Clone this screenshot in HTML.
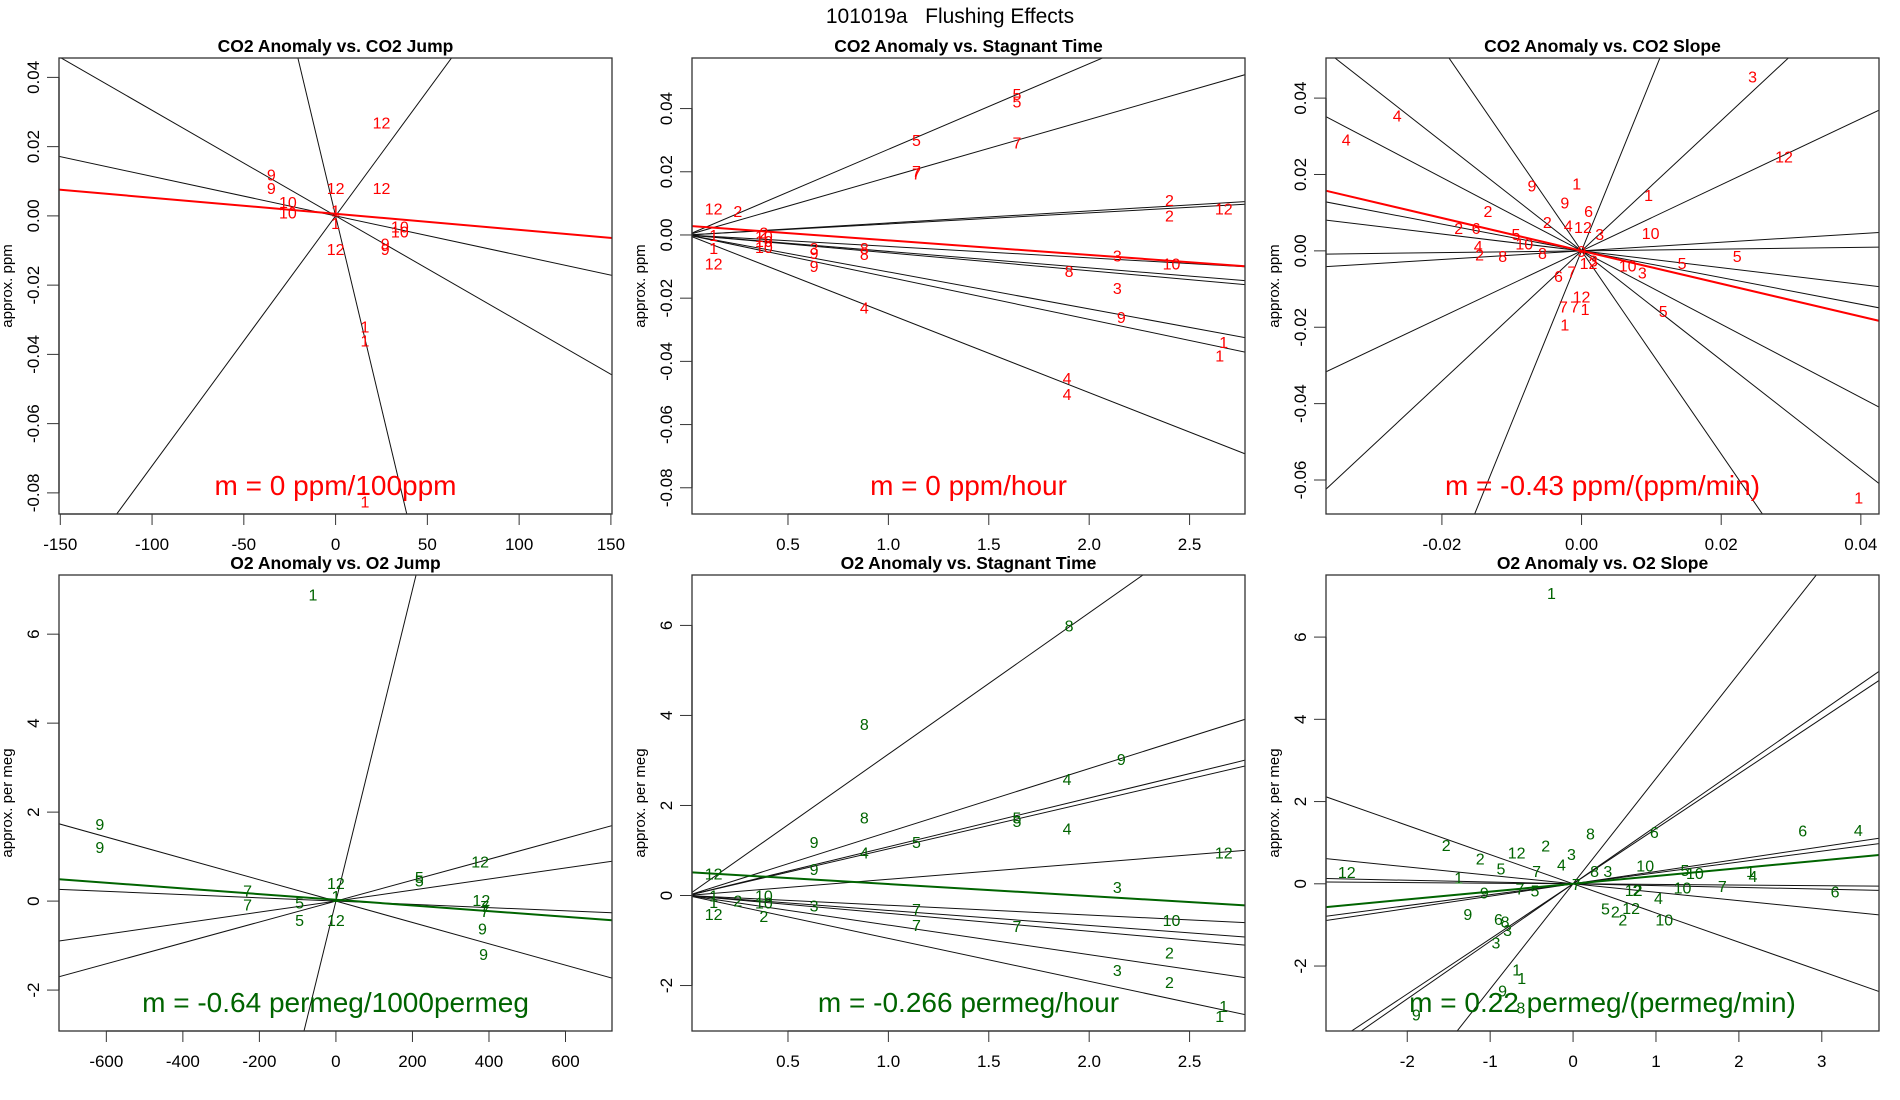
<!DOCTYPE html>
<html><head><meta charset="utf-8"><title>101019a Flushing Effects</title>
<style>
html,body{margin:0;padding:0;background:#fff;width:1900px;height:1100px;overflow:hidden;}
svg{display:block;font-family:"Liberation Sans",Arial,sans-serif;}
</style></head>
<body>
<svg id="fig" width="1900" height="1100" viewBox="0 0 1900 1100" xmlns="http://www.w3.org/2000/svg">
<rect x="0" y="0" width="1900" height="1100" fill="#fff"/>
<text x="950" y="23" font-size="21" text-anchor="middle" style="white-space:pre">101019a   Flushing Effects</text>
</svg>
<script>
// ---------- Data ----------
// Panel 1: CO2 Anomaly vs. CO2 Jump
const p1Slopes = [-0.000305, -0.000114, -0.00222, 0.000722];
const p1FitSlope = -0.0000463;
const p1FitIntercept = 0.0006;
const p1Labels = [[25,0.027,"12"],[-35,0.012,"9"],[-35,0.008,"9"],[0,0.008,"12"],[25,0.008,"12"],[-26,0.004,"10"],[-26,0.001,"10"],[0,0.0015,"1"],[0,-0.002,"1"],[35,-0.003,"10"],[35,-0.0045,"10"],[27,-0.008,"9"],[27,-0.0095,"9"],[0,-0.0095,"12"],[16,-0.032,"1"],[16,-0.036,"1"],[16,-0.0825,"1"]];
const p1XTicks = [-150,-100,-50,0,50,100,150];
const p1YTicks = [-0.08,-0.06,-0.04,-0.02,0,0.02,0.04];

// Panel 2: CO2 Anomaly vs. Stagnant Time
const p2Slopes = [0.0271, 0.01827, 0.0038, 0.0035, -0.00362, -0.00521, -0.00566, -0.0117, -0.01335, -0.02495];
const p2FitSlope = -0.00461;
const p2FitIntercept = 0.0029;
const p2Labels = [[1.64,0.0446,"5"],[1.64,0.0423,"5"],[1.14,0.030,"5"],[1.64,0.0293,"7"],[1.14,0.0202,"7"],[1.14,0.0194,"7"],[0.13,0.0084,"12"],[0.25,0.0076,"2"],[2.40,0.011,"2"],[2.40,0.0061,"2"],[2.67,0.0084,"12"],[0.13,0,"1"],[0.13,-0.0042,"1"],[0.13,-0.0091,"12"],[0.38,0.0008,"2"],[0.38,-0.0004,"10"],[0.38,-0.0019,"10"],[0.38,-0.0038,"10"],[0.63,-0.0042,"3"],[0.63,-0.0057,"9"],[0.63,-0.0099,"9"],[0.88,-0.0042,"8"],[0.88,-0.0061,"8"],[0.88,-0.0229,"4"],[2.14,-0.0065,"3"],[2.41,-0.0091,"10"],[1.90,-0.0114,"8"],[2.14,-0.0168,"3"],[2.16,-0.0259,"9"],[2.67,-0.0339,"1"],[2.65,-0.0381,"1"],[1.89,-0.0453,"4"],[1.89,-0.0503,"4"]];
const p2XTicks = [0.5,1.0,1.5,2.0,2.5];
const p2YTicks = [-0.08,-0.06,-0.04,-0.02,0,0.02,0.04];

// Panel 3: CO2 Anomaly vs. CO2 Slope
const p3Slopes = [-2.66,-1.43,-0.96,-0.35,-0.22,0.023,0.113,0.865,1.705,4.5];
const p3FitSlope = -0.43;
const p3FitIntercept = 0;
const p3Labels = [[0.0245,0.0456,"3"],[-0.0264,0.0354,"4"],[-0.0337,0.0291,"4"],[0.029,0.0247,"12"],[-0.0007,0.0177,"1"],[-0.0071,0.0171,"9"],[0.0096,0.0146,"1"],[-0.0024,0.0127,"9"],[0.001,0.0104,"6"],[-0.0134,0.0104,"2"],[-0.0049,0.0076,"2"],[-0.0019,0.0066,"4"],[0.0002,0.0063,"12"],[0.0026,0.0044,"3"],[0.0099,0.0047,"10"],[-0.0176,0.006,"2"],[-0.0151,0.006,"6"],[-0.0094,0.0044,"5"],[-0.0082,0.0019,"10"],[-0.0148,0.0013,"4"],[-0.0146,-0.0009,"2"],[-0.0113,-0.0013,"8"],[-0.0056,-0.0006,"8"],[0.0223,-0.0013,"5"],[0.0144,-0.0032,"5"],[0.0066,-0.0038,"10"],[0.0087,-0.0057,"3"],[-0.0033,-0.0066,"6"],[-0.0014,-0.0054,"7"],[0,-0.012,"12"],[-0.0026,-0.0146,"7"],[-0.001,-0.0146,"7"],[0.0005,-0.0152,"1"],[0.0117,-0.0158,"5"],[-0.0024,-0.0193,"1"],[0.0397,-0.0646,"1"],[0.001,-0.0032,"12"],[0.0017,-0.0025,"3"],[0,0,"9"]];
const p3XTicks = [-0.02,0,0.02,0.04];
const p3YTicks = [-0.06,-0.04,-0.02,0,0.02,0.04];

// Panel 4: O2 Anomaly vs. O2 Jump
const p4Slopes = [-0.0024,-0.000365,0.00124,0.00235,0.035];
const p4FitSlope = -0.000637;
const p4FitIntercept = 0.03;
const p4Labels = [[-60,6.89,"1"],[-617,1.73,"9"],[-617,1.22,"9"],[-231,0.24,"7"],[-231,-0.08,"7"],[-95,-0.03,"5"],[-95,-0.43,"5"],[0,0.41,"12"],[0,0.11,"1"],[0,-0.43,"12"],[218,0.54,"5"],[218,0.46,"5"],[377,0.89,"12"],[380,0.03,"12"],[389,-0.11,"7"],[389,-0.22,"7"],[383,-0.62,"9"],[386,-1.19,"9"]];
const p4XTicks = [-600,-400,-200,0,200,400,600];
const p4YTicks = [-2,0,2,4,6];

// Panel 5: O2 Anomaly vs. Stagnant Time
const p5Slopes = [3.14,1.41,1.083,1.036,0.361,-0.217,-0.332,-0.397,-0.657,-0.953];
const p5FitSlope = -0.266;
const p5FitIntercept = 0.52;
const p5Labels = [[1.90,6.0,"8"],[0.88,3.81,"8"],[2.16,3.03,"9"],[1.89,2.59,"4"],[0.88,1.73,"8"],[1.64,1.73,"5"],[1.64,1.65,"5"],[1.89,1.49,"4"],[0.63,1.19,"9"],[1.14,1.19,"5"],[0.88,0.95,"4"],[0.63,0.59,"9"],[2.67,0.95,"12"],[0.13,0.49,"12"],[2.14,0.19,"3"],[0.13,0,"1"],[0.13,-0.14,"1"],[0.25,-0.11,"2"],[0.38,0,"10"],[0.38,-0.16,"10"],[0.63,-0.22,"3"],[0.13,-0.41,"12"],[0.38,-0.46,"2"],[1.14,-0.3,"7"],[1.14,-0.65,"7"],[1.64,-0.68,"7"],[2.41,-0.54,"10"],[2.40,-1.27,"2"],[2.14,-1.65,"3"],[2.40,-1.92,"2"],[2.67,-2.46,"1"],[2.65,-2.68,"1"]];
const p5XTicks = [0.5,1.0,1.5,2.0,2.5];
const p5YTicks = [-2,0,2,4,6];

// Panel 6: O2 Anomaly vs. O2 Slope
const p6Slopes = [2.56,1.40,1.34,0.30,0.265,-0.015,-0.043,-0.205,-0.71];
const p6FitSlope = 0.19;
const p6FitIntercept = 0;
const p6Labels = [[-0.26,7.07,"1"],[0.21,1.22,"8"],[0.98,1.26,"6"],[2.77,1.30,"6"],[3.44,1.31,"4"],[-1.53,0.94,"2"],[-0.33,0.93,"2"],[-0.68,0.76,"12"],[-0.02,0.73,"3"],[-1.12,0.61,"2"],[-0.14,0.47,"4"],[0.87,0.45,"10"],[-0.87,0.37,"5"],[-0.44,0.31,"7"],[0.26,0.31,"8"],[0.42,0.31,"3"],[-2.73,0.29,"12"],[1.35,0.34,"5"],[1.47,0.26,"10"],[2.14,0.31,"1"],[2.17,0.19,"4"],[-1.38,0.15,"1"],[0.04,0,"7"],[-0.64,-0.11,"7"],[-0.46,-0.16,"5"],[-1.07,-0.21,"9"],[0.73,-0.15,"12"],[0.77,-0.15,"2"],[1.32,-0.09,"10"],[1.80,-0.05,"7"],[3.16,-0.19,"6"],[1.03,-0.34,"4"],[0.39,-0.60,"5"],[0.51,-0.67,"2"],[0.70,-0.59,"12"],[0.60,-0.87,"2"],[1.10,-0.87,"10"],[-1.27,-0.74,"9"],[-0.90,-0.86,"6"],[-0.82,-0.92,"8"],[-0.79,-1.12,"3"],[-0.93,-1.43,"3"],[-0.68,-2.08,"1"],[-0.62,-2.29,"1"],[-0.85,-2.59,"9"],[-0.63,-3.01,"8"],[-1.89,-3.18,"9"]];
const p6XTicks = [-2,-1,0,1,2,3];
const p6YTicks = [-2,0,2,4,6];

// ---------- Layout ----------
const NS = "http://www.w3.org/2000/svg";
const svg = document.getElementById('fig');
function mk(tag, attrs, parent){ const e=document.createElementNS(NS,tag); for(const k in attrs) e.setAttribute(k,attrs[k]); (parent||svg).appendChild(e); return e; }

const RED="#ff0000", GREEN="#006400";
const panels = [
 {id:"p1", title:"CO2 Anomaly vs. CO2 Jump", ytitle:"approx. ppm", box:[59,58,612,514], xr:[-150.7,150.6], yr:[-0.0861,0.0456], slopes:p1Slopes, fs:p1FitSlope, fi:p1FitIntercept, labels:p1Labels, xt:p1XTicks, yt:p1YTicks, xf:v=>String(v), yf:v=>v.toFixed(2), col:RED, m:"m = 0 ppm/100ppm"},
 {id:"p2", title:"CO2 Anomaly vs. Stagnant Time", ytitle:"approx. ppm", box:[692,58,1245,514], xr:[0.022,2.776], yr:[-0.0883,0.056], slopes:p2Slopes, fs:p2FitSlope, fi:p2FitIntercept, labels:p2Labels, xt:p2XTicks, yt:p2YTicks, xf:v=>v.toFixed(1), yf:v=>v.toFixed(2), col:RED, m:"m = 0 ppm/hour"},
 {id:"p3", title:"CO2 Anomaly vs. CO2 Slope", ytitle:"approx. ppm", box:[1326,58,1879,514], xr:[-0.0366,0.0426], yr:[-0.0689,0.0505], slopes:p3Slopes, fs:p3FitSlope, fi:p3FitIntercept, labels:p3Labels, xt:p3XTicks, yt:p3YTicks, xf:v=>v.toFixed(2), yf:v=>v.toFixed(2), col:RED, m:"m = -0.43 ppm/(ppm/min)"},
 {id:"p4", title:"O2 Anomaly vs. O2 Jump", ytitle:"approx. per meg", box:[59,575,612,1031], xr:[-723.7,721.5], yr:[-2.92,7.33], slopes:p4Slopes, fs:p4FitSlope, fi:p4FitIntercept, labels:p4Labels, xt:p4XTicks, yt:p4YTicks, xf:v=>String(v), yf:v=>String(v), col:GREEN, m:"m = -0.64 permeg/1000permeg"},
 {id:"p5", title:"O2 Anomaly vs. Stagnant Time", ytitle:"approx. per meg", box:[692,575,1245,1031], xr:[0.022,2.776], yr:[-3.01,7.12], slopes:p5Slopes, fs:p5FitSlope, fi:p5FitIntercept, labels:p5Labels, xt:p5XTicks, yt:p5YTicks, xf:v=>v.toFixed(1), yf:v=>String(v), col:GREEN, m:"m = -0.266 permeg/hour"},
 {id:"p6", title:"O2 Anomaly vs. O2 Slope", ytitle:"approx. per meg", box:[1326,575,1879,1031], xr:[-2.98,3.69], yr:[-3.58,7.51], slopes:p6Slopes, fs:p6FitSlope, fi:p6FitIntercept, labels:p6Labels, xt:p6XTicks, yt:p6YTicks, xf:v=>String(v), yf:v=>String(v), col:GREEN, m:"m = 0.22 permeg/(permeg/min)"}
];

const defs = mk('defs',{});
panels.forEach(p=>{
  const [L,T,R,B] = p.box;
  const sx = v => L + (v-p.xr[0])/(p.xr[1]-p.xr[0])*(R-L);
  const sy = v => B - (v-p.yr[0])/(p.yr[1]-p.yr[0])*(B-T);
  const g = mk('g',{});
  
  

  const cp = mk('clipPath',{id:'clip-'+p.id}, defs);
  mk('rect',{x:L,y:T,width:R-L,height:B-T}, cp);

  const t = mk('text',{x:(L+R)/2, y:T-6, 'font-size':17.5, 'font-weight':'bold', 'text-anchor':'middle'}, g);
  t.textContent = p.title;
  
  

  const yx = L-47, yy=(T+B)/2;
  const yt = mk('text',{x:yx, y:yy, 'font-size':15, 'text-anchor':'middle', transform:`rotate(-90 ${yx} ${yy})`}, g);
  yt.textContent = p.ytitle;
  
  

  const lg = mk('g',{'clip-path':`url(#clip-${p.id})`}, g);
  
  
  const x0 = p.xr[0]-(p.xr[1]-p.xr[0]), x1 = p.xr[1]+(p.xr[1]-p.xr[0]);
  p.slopes.forEach(s=>{
    const ln = mk('line',{x1:sx(x0), y1:sy(s*x0), x2:sx(x1), y2:sy(s*x1), stroke:'#111', 'stroke-width':1}, lg);
    
    
  });
  const fl = mk('line',{x1:sx(x0), y1:sy(p.fs*x0+p.fi), x2:sx(x1), y2:sy(p.fs*x1+p.fi), stroke:p.col, 'stroke-width':2}, lg);
  
  

  const pg = mk('g',{'clip-path':`url(#clip-${p.id})`}, g);
  
  
  p.labels.forEach(d=>{
    const tx = mk('text',{x:sx(d[0]), y:sy(d[1])+6, 'font-size':16, fill:p.col, 'text-anchor':'middle'}, pg);
    tx.textContent = d[2];
    
    
  });

  const mt = mk('text',{x:(L+R)/2, y:B-19, 'font-size':28, fill:p.col, 'text-anchor':'middle'}, g);
  mt.textContent = p.m;
  
  

  const bx = mk('rect',{x:L, y:T, width:R-L, height:B-T, fill:'none', stroke:'#333', 'stroke-width':1.3}, g);
  
  

  const xa = mk('g',{}, g);
  
  
  mk('line',{x1:sx(p.xt[0]), y1:B, x2:sx(p.xt[p.xt.length-1]), y2:B, stroke:'#333','stroke-width':1.3}, xa);
  p.xt.forEach(v=>{
    const X = sx(v);
    mk('line',{x1:X,y1:B,x2:X,y2:B+11,stroke:'#333','stroke-width':1}, xa);
    const tl = mk('text',{x:X, y:B+36, 'font-size':17, 'text-anchor':'middle'}, xa);
    tl.textContent = p.xf(v);
    
    
  });

  const ya = mk('g',{}, g);
  
  
  mk('line',{x1:L, y1:sy(p.yt[0]), x2:L, y2:sy(p.yt[p.yt.length-1]), stroke:'#333','stroke-width':1.3}, ya);
  p.yt.forEach(v=>{
    const Y = sy(v);
    mk('line',{x1:L-12,y1:Y,x2:L,y2:Y,stroke:'#333','stroke-width':1}, ya);
    const lx = L-20;
    const tl = mk('text',{x:lx, y:Y, 'font-size':17, 'text-anchor':'middle', transform:`rotate(-90 ${lx} ${Y})`}, ya);
    tl.textContent = p.yf(v);
    
    
  });
});
</script>
</body></html>
